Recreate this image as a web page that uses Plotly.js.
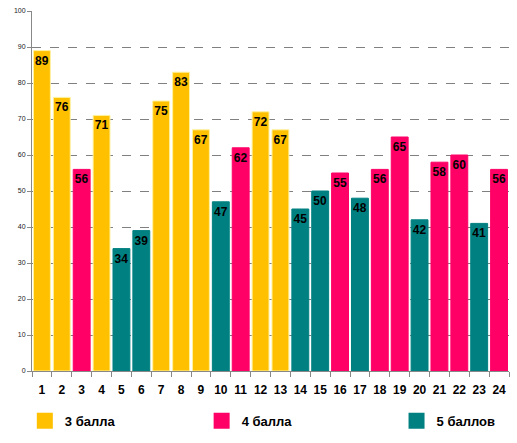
<!DOCTYPE html>
<html><head><meta charset="utf-8">
<script src="https://cdn.plot.ly/plotly-3.0.1.min.js"></script>
<style>html,body{margin:0;padding:0;background:#fff}#c{width:517px;height:443px}</style>
</head><body><div id="c"></div>
<script>
var categories = ['1','2','3','4','5','6','7','8','9','10','11','12','13','14','15','16','17','18','19','20','21','22','23','24'];
var values = [89,76,56,71,34,39,75,83,67,47,62,72,67,45,50,55,48,56,65,42,58,60,41,56];
var groups = ['3','3','4','3','5','5','3','3','3','5','4','3','3','5','5','4','5','4','4','5','4','4','5','4'];
var groupNames = {'3':'3 балла','4':'4 балла','5':'5 баллов'};
var groupColors = {'3':'#FFC000','4':'#FF0066','5':'#008080'};
var groupLines = {'3':'#FFF2A0','4':'#FF0066','5':'#008080'};
var yTicks = [0,10,20,30,40,50,60,70,80,90,100];

var traces = [];
['3','4','5'].forEach(function(g){
  var xs=[], ys=[];
  categories.forEach(function(c,i){ if(groups[i]===g){ xs.push(c); ys.push(values[i]); } });
  traces.push({
    type:'bar', x:xs, y:ys, showlegend:false,
    marker:{color:groupColors[g], line:{color:groupLines[g], width:1}},
    text:ys.map(String), textposition:'inside', insidetextanchor:'end',
    constraintext:'none', cliponaxis:false,
    textfont:{family:'Liberation Sans, Arial, sans-serif', size:12, color:'#000000', weight:'bold'},
    hoverinfo:'x+y'
  });
});
var legendIds = {'3':'legend','4':'legend2','5':'legend3'};
['3','4','5'].forEach(function(g){
  traces.push({
    type:'scatter', mode:'markers', x:[null], y:[null], name:groupNames[g],
    marker:{symbol:'square', size:22, color:groupColors[g]}, showlegend:true,
    legend:legendIds[g]
  });
});

var legFont = {family:'Liberation Sans, Arial, sans-serif', size:13, color:'#000', weight:'bold'};

var layout = {
  width:517, height:443,
  margin:{l:32, r:8, t:11, b:72},
  paper_bgcolor:'#ffffff', plot_bgcolor:'#ffffff',
  barmode:'overlay', bargap:0.15,
  showlegend:true,
  legend:{orientation:'h', xref:'container', yref:'container', x:0.048, y:0.05, yanchor:'middle', font:legFont, bgcolor:'rgba(0,0,0,0)'},
  legend2:{orientation:'h', xref:'container', yref:'container', x:0.39, y:0.05, yanchor:'middle', font:legFont, bgcolor:'rgba(0,0,0,0)'},
  legend3:{orientation:'h', xref:'container', yref:'container', x:0.767, y:0.05, yanchor:'middle', font:legFont, bgcolor:'rgba(0,0,0,0)'},
  xaxis:{type:'category', categoryorder:'array', categoryarray:categories,
    tickmode:'array', tickvals:categories, ticktext:categories, tickangle:0,
    showline:true, linecolor:'#888888', linewidth:1,
    ticks:'outside', tickson:'boundaries', ticklen:5, tickcolor:'#888888',
    ticklabelstandoff:8,
    tickfont:{family:'Liberation Sans, Arial, sans-serif', size:12, color:'#000', weight:'bold'},
    showgrid:false, fixedrange:true},
  yaxis:{range:[0,100], tickvals:yTicks, ticktext:yTicks.map(String),
    showline:true, linecolor:'#888888', linewidth:1,
    ticks:'outside', ticklen:4, tickcolor:'#888888',
    tickfont:{family:'Liberation Sans, Arial, sans-serif', size:7, color:'#222'},
    showgrid:true, gridcolor:'#808080', griddash:'dash', gridwidth:1,
    zeroline:false, fixedrange:true}
};
Plotly.newPlot('c', traces, layout, {displayModeBar:false, staticPlot:true});
</script></body></html>
